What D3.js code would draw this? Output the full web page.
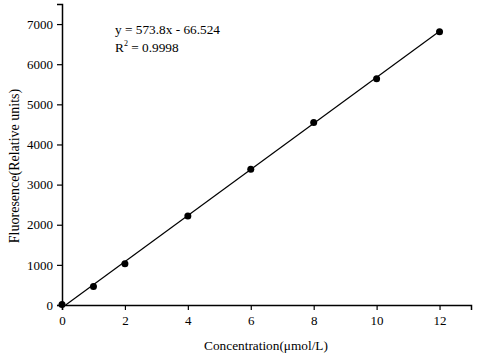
<!DOCTYPE html>
<html lang="en">

<head>
    <meta charset="UTF-8">
    <title>Fluorescence calibration</title>
    <style>
        body {
            margin: 0;
            padding: 0;
            overflow: hidden;
            background: #fff;
        }

        text {
            font-family: "Liberation Serif", "DejaVu Serif", serif;
        }
    </style>
</head>

<body>
    <script src="https://d3js.org/d3.v7.min.js"></script>
    <script>
        // Data
        const concentration = [0, 1, 2, 4, 6, 8, 10, 12];
        const fluorescence = [15, 458, 1030, 2215, 3380, 4545, 5640, 6810];
        const xTicks = [0, 2, 4, 6, 8, 10, 12];
        const yTicks = [0, 1000, 2000, 3000, 4000, 5000, 6000, 7000];
        const slope = 573.8;
        const intercept = -66.524;

        const width = 480;
        const height = 360;
        const margin = { left: 62, right: 9, top: 4, bottom: 55 };

        const svg = d3.select("body").append("svg")
            .attr("width", width)
            .attr("height", height);

        // Scales
        const x = d3.scaleLinear()
            .domain([0, 13])
            .range([margin.left, width - margin.right]);

        const y = d3.scaleLinear()
            .domain([0, 7500])
            .range([height - margin.bottom, margin.top]);

        // Bottom axis with minor ticks
        const xAxis = svg.append("g")
            .attr("transform", `translate(0,${y(0)})`);
        xAxis.call(d3.axisBottom(x).tickValues(d3.range(0, 14, 1)).tickSize(3).tickFormat(""));
        xAxis.call(d3.axisBottom(x).tickValues(xTicks).tickSize(5).tickPadding(6).tickFormat(d3.format("d")));

        // Left axis with minor ticks
        const yAxis = svg.append("g")
            .attr("transform", `translate(${x(0)},0)`);
        yAxis.call(d3.axisLeft(y).tickValues(d3.range(0, 7501, 500)).tickSize(3).tickFormat(""));
        yAxis.call(d3.axisLeft(y).tickValues(yTicks).tickSize(5).tickPadding(4).tickFormat(d3.format("d")));

        svg.selectAll(".domain").attr("stroke", "#000").attr("stroke-width", 1.5);
        svg.selectAll(".tick line").attr("stroke", "#000").attr("stroke-width", 1.2);
        svg.selectAll(".tick text")
            .attr("font-family", "Liberation Serif")
            .attr("font-size", 13)
            .attr("fill", "#000");

        // Regression line, starting where it crosses zero
        const x0 = -intercept / slope;
        svg.append("line")
            .attr("x1", x(x0))
            .attr("y1", y(slope * x0 + intercept))
            .attr("x2", x(12))
            .attr("y2", y(slope * 12 + intercept))
            .attr("stroke", "#000")
            .attr("stroke-width", 1.2);

        // Data points
        svg.selectAll("circle")
            .data(concentration)
            .enter().append("circle")
            .attr("cx", d => x(d))
            .attr("cy", (d, i) => y(fluorescence[i]))
            .attr("r", 3.5)
            .attr("fill", "#000");

        // Equation text
        const eq = svg.append("g")
            .attr("font-size", 13.3)
            .attr("fill", "#000");
        eq.append("text")
            .attr("x", 115)
            .attr("y", 34)
            .text(`y = ${slope}x - ${-intercept}`);
        const r2 = eq.append("text")
            .attr("x", 115)
            .attr("y", 52);
        r2.append("tspan").text("R");
        r2.append("tspan").attr("font-size", 8).attr("dy", -6).text("2");
        r2.append("tspan").attr("dy", 6).text(" = 0.9998");

        // Axis titles
        svg.append("text")
            .attr("x", 266)
            .attr("y", 350)
            .attr("text-anchor", "middle")
            .attr("font-size", 13.3)
            .text("Concentration(μmol/L)");

        svg.append("text")
            .attr("transform", "translate(19,166) rotate(-90)")
            .attr("text-anchor", "middle")
            .attr("font-size", 14)
            .text("Fluoresence(Relative units)");
    </script>
</body>

</html>
